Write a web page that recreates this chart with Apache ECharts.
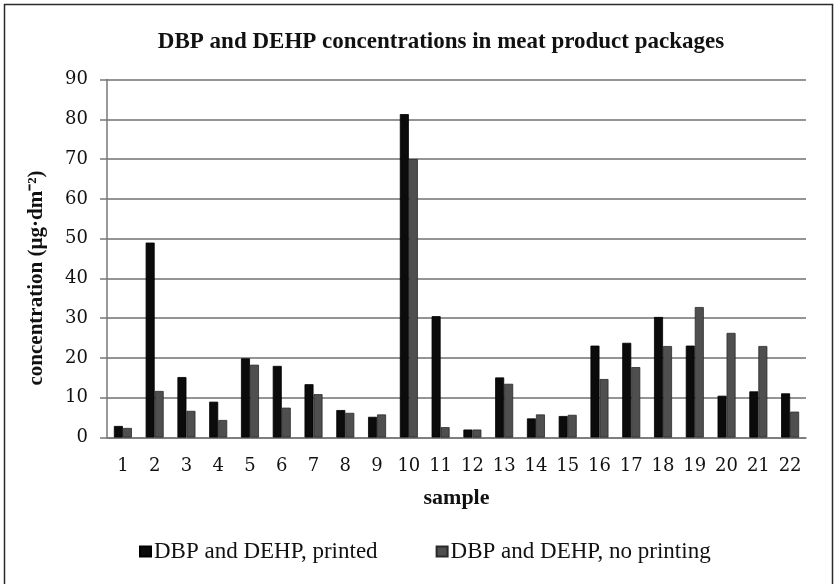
<!DOCTYPE html>
<html>
<head>
<meta charset="utf-8">
<script src="https://cdn.jsdelivr.net/npm/echarts@6/dist/echarts.min.js"></script>
<style>html,body{margin:0;padding:0;background:#fff;}#c{width:834px;height:584px;}</style>
</head>
<body>
<div id="c"></div>
<script>
const samples = ['1','2','3','4','5','6','7','8','9','10','11','12','13','14','15','16','17','18','19','20','21','22'];
const printed = [2.9, 49.0, 15.2, 9.0, 19.9, 18.0, 13.4, 6.9, 5.2, 81.3, 30.5, 2.0, 15.1, 4.8, 5.4, 23.1, 23.8, 30.3, 23.1, 10.5, 11.6, 11.1];
const noPrinting = [2.4, 11.7, 6.7, 4.4, 18.3, 7.5, 10.9, 6.2, 5.8, 70.0, 2.6, 2.0, 13.5, 5.8, 5.7, 14.7, 17.7, 23.0, 32.8, 26.3, 23.0, 6.5];
const seriesNames = ['DBP and DEHP, printed', 'DBP and DEHP, no printing'];
const yTicks = {min: 0, max: 90, interval: 10};
const yAxisTitle = 'concentration (µg·dm⁻²)';

const serif = '"Liberation Serif", "Times New Roman", serif';
const numFont = '"DejaVu Serif", serif';
const chart = echarts.init(document.getElementById('c'), null, {renderer: 'canvas'});
chart.setOption({
  animation: false,
  backgroundColor: '#fff',
  graphic: [
    {type: 'rect', left: 2, top: 2, shape: {x: 0, y: 0, width: 828, height: 600},
     style: {fill: 'none', stroke: '#2a2a2a', lineWidth: 1.5}, z: 100},
    {type: 'text', x: 37, y: 278, rotation: Math.PI / 2,
     style: {text: yAxisTitle, fontFamily: serif, fontWeight: 'bold', fontSize: 21,
             fill: '#111', textAlign: 'center', textVerticalAlign: 'middle'}}
  ],
  title: {
    text: 'DBP and DEHP concentrations in meat product packages',
    left: 436, top: 26, textAlign: 'center',
    textStyle: {fontFamily: serif, fontWeight: 'bold', fontSize: 23, color: '#111'}
  },
  legend: {
    data: seriesNames,
    top: 535, left: 134,
    itemWidth: 11, itemHeight: 10, itemGap: 58,
    icon: 'rect',
    textStyle: {fontFamily: serif, fontSize: 23, color: '#111', padding: [0, 0, 0, -2]}
  },
  grid: {left: 107, right: 28, top: 79.5, bottom: 146.5, containLabel: false},
  xAxis: {
    type: 'category', data: samples,
    name: 'sample', nameLocation: 'middle', nameGap: 50,
    nameTextStyle: {fontFamily: serif, fontWeight: 'bold', fontSize: 22, color: '#111'},
    axisLine: {show: true, lineStyle: {color: '#777', width: 1.5}},
    axisTick: {show: false},
    axisLabel: {fontFamily: numFont, fontSize: 18, color: '#111', margin: 20}
  },
  yAxis: {
    type: 'value', min: yTicks.min, max: yTicks.max, interval: yTicks.interval,
    axisLine: {show: true, lineStyle: {color: '#777', width: 1.5}},
    axisTick: {show: true, inside: false, length: 7, lineStyle: {color: '#777', width: 1.5}},
    axisLabel: {fontFamily: numFont, fontSize: 18, color: '#111', margin: 19},
    splitLine: {show: true, lineStyle: {color: '#707070', width: 1.5}}
  },
  series: [
    {name: seriesNames[0], type: 'bar', data: printed, barWidth: 9, barGap: '0%',
     itemStyle: {color: '#0b0b0b', borderColor: '#000', borderWidth: 0.8}},
    {name: seriesNames[1], type: 'bar', data: noPrinting, barWidth: 9, barGap: '0%',
     itemStyle: {color: '#4f4f4f', borderColor: '#2a2a2a', borderWidth: 0.8}}
  ]
});
</script>
</body>
</html>
